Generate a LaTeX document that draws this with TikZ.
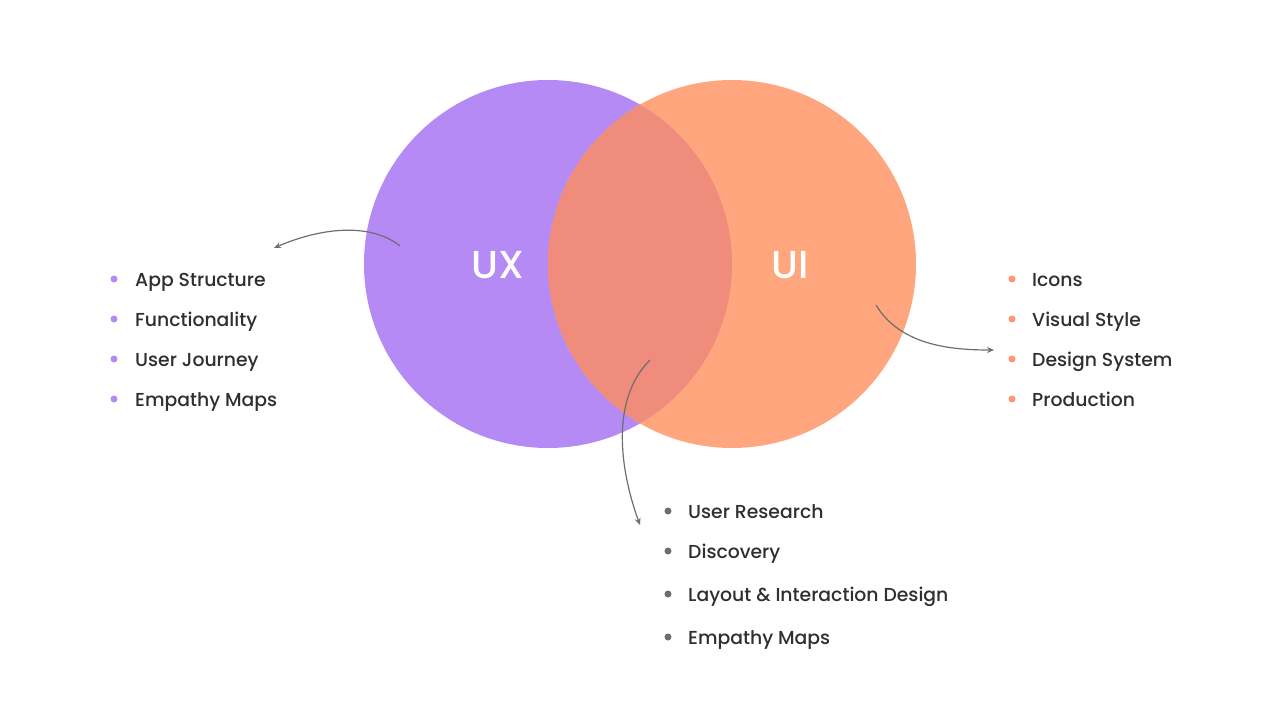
\documentclass[tikz,border=0pt]{standalone}
\usepackage{fontspec}
\setmainfont{Poppins}[BoldFont={Poppins SemiBold}]
\newfontfamily\medfont{Poppins Medium}
\usetikzlibrary{arrows.meta}
\definecolor{ux}{HTML}{B58AF5}
\definecolor{ui}{HTML}{FFA67E}
\definecolor{mix}{HTML}{F08C7C}
\definecolor{txt}{HTML}{2E2E33}
\definecolor{gr}{HTML}{6E6E6E}
\tikzset{
 lbl/.style={anchor=base west,font=\medfont\fontsize{18.8}{22}\selectfont,text=txt,inner sep=0pt},
 dot/.style={circle,inner sep=0pt,minimum size=7pt},
 big/.style={font=\medfont\fontsize{39}{42}\selectfont,text=white},
 conn/.style={gr,line width=1.2pt,-{Stealth[length=7pt,width=6pt,open]}}
}
\begin{document}
\begin{tikzpicture}[x=1pt,y=-1pt]
\useasboundingbox (0,0) rectangle (1280,704);
\fill[ux] (548,264) circle (184);
\fill[ui] (732,264) circle (184);
\begin{scope}
\clip (548,264) circle (184);
\fill[mix] (732,264) circle (184);
\end{scope}
\node[big] (ux) at (498,265) {UX};
\node[big] (ui) at (790,265) {UI};
\coordinate (a1) at (400,246); \coordinate (a2) at (274,248);
\draw[conn] (a1) .. controls (370,222) and (320,228) .. (a2);
\coordinate (b1) at (650,360); \coordinate (b2) at (640,525);
\draw[conn] (b1) .. controls (610,400) and (620,470) .. (b2);
\coordinate (c1) at (876,305); \coordinate (c2) at (994,350);
\draw[conn] (c1) .. controls (900,345) and (950,350) .. (c2);
\foreach \t [count=\i] in {App Structure,Functionality,User Journey,Empathy Maps}{
 \node[dot,fill=ux] (p\i) at (114,{239+40*\i}) {};
 \node[lbl] (pt\i) at (135,{246+40*\i}) {\t};}
\foreach \t [count=\i] in {Icons,Visual Style,Design System,Production}{
 \node[dot,fill=ui!90!red] (o\i) at (1012,{239+40*\i}) {};
 \node[lbl] (ot\i) at (1032,{246+40*\i}) {\t};}
\foreach \t/\y [count=\i] in {User Research/511,Discovery/551,Layout \& Interaction Design/594,Empathy Maps/637}{
 \node[dot,fill=gr] (g\i) at (668,\y) {};
 \node[lbl] (gt\i) at (688,\y+7) {\t};}
\end{tikzpicture}
\end{document}
